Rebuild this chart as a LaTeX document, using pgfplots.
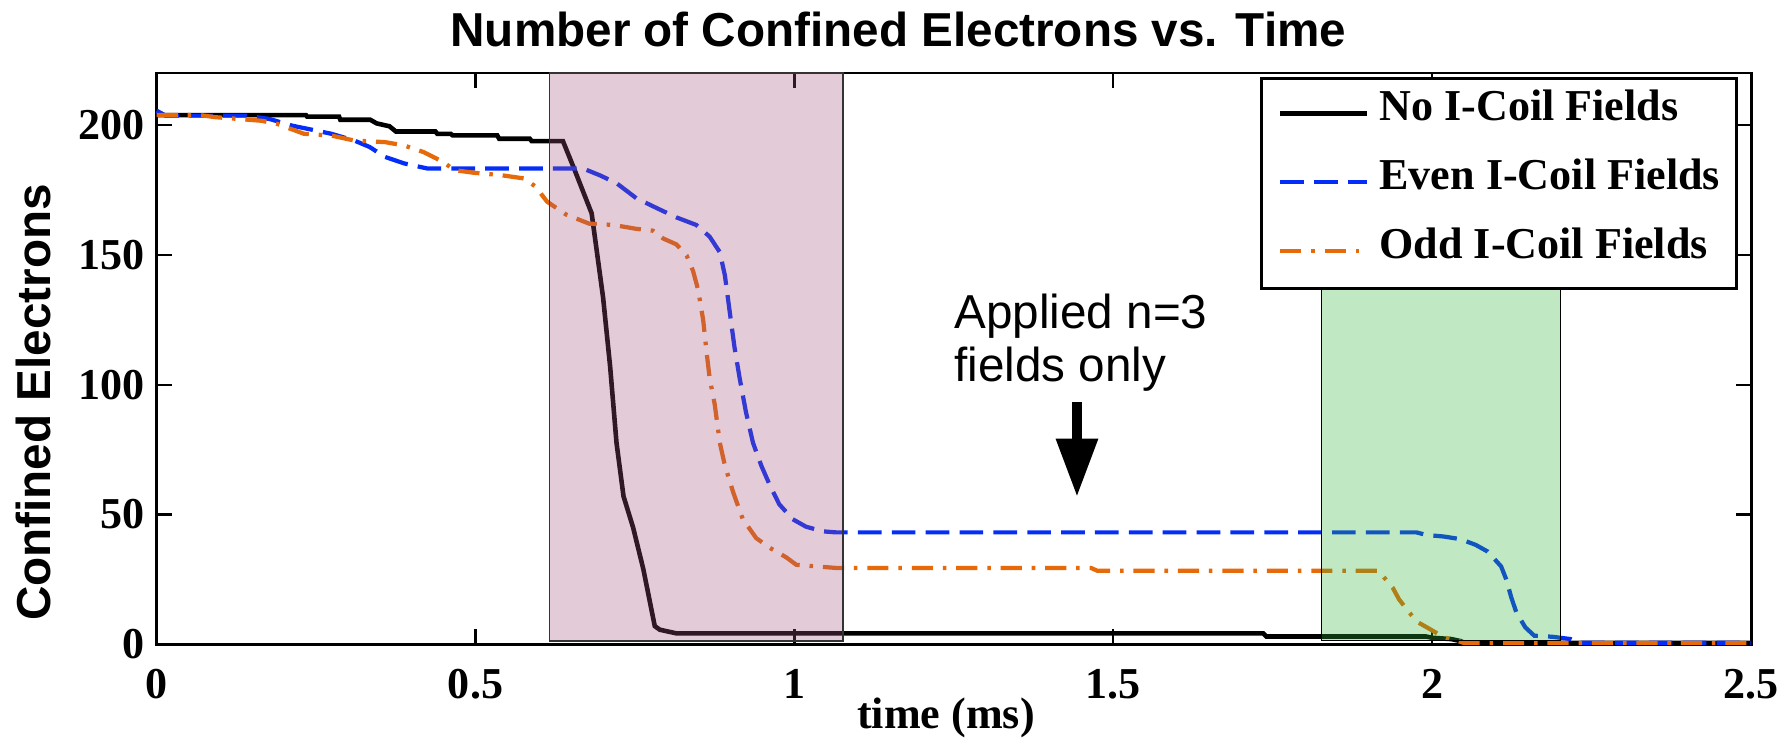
\documentclass[border=0pt]{standalone}
\usepackage{fontspec}
\setmainfont{Liberation Serif}
\newfontfamily\sansf{Liberation Sans}
\usepackage{pgfplots}
\pgfplotsset{compat=1.18}
\usetikzlibrary{arrows.meta,calc}
\definecolor{cblue}{RGB}{5,45,250}
\definecolor{corange}{RGB}{230,105,10}
\definecolor{cpink}{RGB}{162,85,125}
\definecolor{cgreen}{RGB}{48,182,55}
\begin{document}
\begin{tikzpicture}
\begin{axis}[
  width=451.9pt, height=161.9pt, scale only axis,
  xmin=0, xmax=2.5, ymin=0, ymax=220, clip=false,
  xtick={0,0.5,1,1.5,2,2.5}, xticklabels={0,0.5,1,1.5,2,2.5},
  ytick={0,50,100,150,200},
  tick align=inside, tick pos=both, major tick length=4.3pt,
  tick style={black, line width=0.6pt},
  axis line style={black, line width=0.8pt},
  /pgf/number format/assume math mode=true,
  ticklabel style={font=\fontsize{12.5}{14}\selectfont\bfseries},
  xticklabel style={anchor=base, yshift=-15.3pt},
  legend cell align=left,
  legend style={at={(0.692,0.9938)}, anchor=north west, draw=black, line width=0.9pt,
    inner xsep=4.6pt, inner ysep=3pt, row sep=5pt, column sep=3pt,
    font=\fontsize{12.5}{14}\selectfont\bfseries,
    nodes={inner sep=0pt, text height=9pt, text depth=5.5pt}},
  legend image code/.code={\draw[#1] (0pt,0.25pt) -- (24.5pt,0.25pt);},
]
\addplot[black, line width=1.3pt] coordinates {
(0,203.8) (0.234,203.8) (0.236,203.2) (0.286,203.2) (0.288,202) (0.335,202) (0.345,200.6) (0.365,199.5) (0.375,197.5) (0.437,197.5) (0.44,196.6) (0.461,196.6) (0.464,196) (0.534,196) (0.537,194.7) (0.585,194.7) (0.588,193.8) (0.637,193.8) (0.654,183.5) (0.682,166) (0.687,157) (0.700,133.5) (0.711,107) (0.721,77.6) (0.732,57) (0.747,45) (0.763,29) (0.781,7) (0.789,5.6) (0.815,4.2) (1.735,4.2) (1.74,3) (1.99,3) (2.0,2.5) (2.03,2) (2.045,1.2) (2.05,0.5) (2.5,0.5)};
\addlegendentry{No I-Coil Fields}
\addplot[cblue, line width=1.2pt, dash pattern=on 6.7pt off 2.9pt] coordinates {
(0,205.5) (0.014,203.6) (0.14,203.6) (0.177,202.3) (0.213,199.7) (0.237,198.5) (0.274,196.6) (0.310,194) (0.334,191.5) (0.358,187.7) (0.388,185.2) (0.425,183.2) (0.669,183.2) (0.695,180.6) (0.721,177.6) (0.752,171.8) (0.784,168) (0.815,164.4) (0.846,161.5) (0.867,157) (0.883,151) (0.891,142) (0.898,129) (0.906,114.4) (0.914,102.6) (0.924,89.4) (0.935,77.6) (0.948,68.8) (0.961,61.5) (0.976,54) (0.997,48.2) (1.018,45.3) (1.044,43.5) (1.065,43.1) (1.975,43.1) (1.991,42.1) (2.018,41.5) (2.044,40.5) (2.068,38.3) (2.087,35.7) (2.108,30) (2.116,25) (2.124,18) (2.132,12.2) (2.146,6.5) (2.160,3.3) (2.188,2.9) (2.217,2) (2.23,0.6) (2.5,0.6)};
\addlegendentry{Even I-Coil Fields}
\addplot[corange, line width=1.2pt, dash pattern=on 6pt off 2.8pt on 1pt off 2.8pt] coordinates {
(0,203.8) (0.068,203.8) (0.092,203) (0.129,202.3) (0.165,201.6) (0.189,200.4) (0.231,196.6) (0.274,195.9) (0.310,194) (0.358,193.4) (0.388,192.1) (0.418,189.6) (0.449,185.8) (0.467,182.6) (0.497,181.6) (0.539,180.7) (0.576,179.4) (0.594,176.3) (0.612,170.5) (0.642,165.5) (0.678,162) (0.716,161.5) (0.752,160) (0.778,159.3) (0.794,156.3) (0.815,154) (0.831,149.7) (0.841,143.8) (0.849,136.5) (0.857,124.7) (0.862,113) (0.867,102.6) (0.875,92.4) (0.883,77.6) (0.891,68.8) (0.904,58.5) (0.919,48.2) (0.940,40.9) (0.961,37.2) (0.987,33.5) (1.003,30.6) (1.039,29.9) (1.065,29.4) (1.465,29.4) (1.475,28.3) (1.916,28.3) (1.927,25) (1.938,21.8) (1.948,17.3) (1.964,12.2) (1.978,8.4) (1.996,5.9) (2.018,2.7) (2.039,1.4) (2.05,0.5) (2.5,0.5)};
\addlegendentry{Odd I-Coil Fields}
\addplot[fill=cpink, fill opacity=0.3, draw=black!80, line width=0.4pt, forget plot] coordinates {(0.616,1.3) (1.076,1.3) (1.076,220) (0.616,220)} -- cycle;
\addplot[fill=cgreen, fill opacity=0.3, draw=black, line width=0.4pt, forget plot] coordinates {(1.826,1.4) (2.2015,1.4) (2.2015,138.2) (1.826,138.2)} -- cycle;
\node[anchor=base west, inner sep=0pt, font=\sansf\fontsize{13.5}{15}\selectfont] at (axis cs:1.250,121.6) {Applied n=3};
\node[anchor=base west, inner sep=0pt, font=\sansf\fontsize{13.5}{15}\selectfont] at (axis cs:1.250,101.1) {fields only};
\draw[line width=2.8pt, -{Triangle[length=16.5pt,width=11.3pt]}] (axis cs:1.443,93.4) -- (axis cs:1.443,56.8);
\coordinate (bl) at (rel axis cs:0,0);
\coordinate (tr) at (rel axis cs:1,1);
\end{axis}
\node[anchor=base, font=\sansf\bfseries\fontsize{13.5}{16}\selectfont] at ($(bl)+(210.2pt,169.4pt)$) {Number of Confined Electrons vs. Time};
\node[anchor=base, rotate=90, font=\sansf\bfseries\fontsize{13.5}{16}\selectfont] at ($(bl)+(-30.2pt,68.5pt)$) {Confined Electrons};
\node[anchor=base, font=\fontsize{12.5}{14}\selectfont\bfseries] at ($(bl)+(223.7pt,-23.9pt)$) {time (ms)};
\pgfresetboundingbox
\path[use as bounding box] ($(bl)+(-44.4pt,-28.8pt)$) rectangle ($(tr)+(9.6pt,20.7pt)$);
\end{tikzpicture}
\end{document}
